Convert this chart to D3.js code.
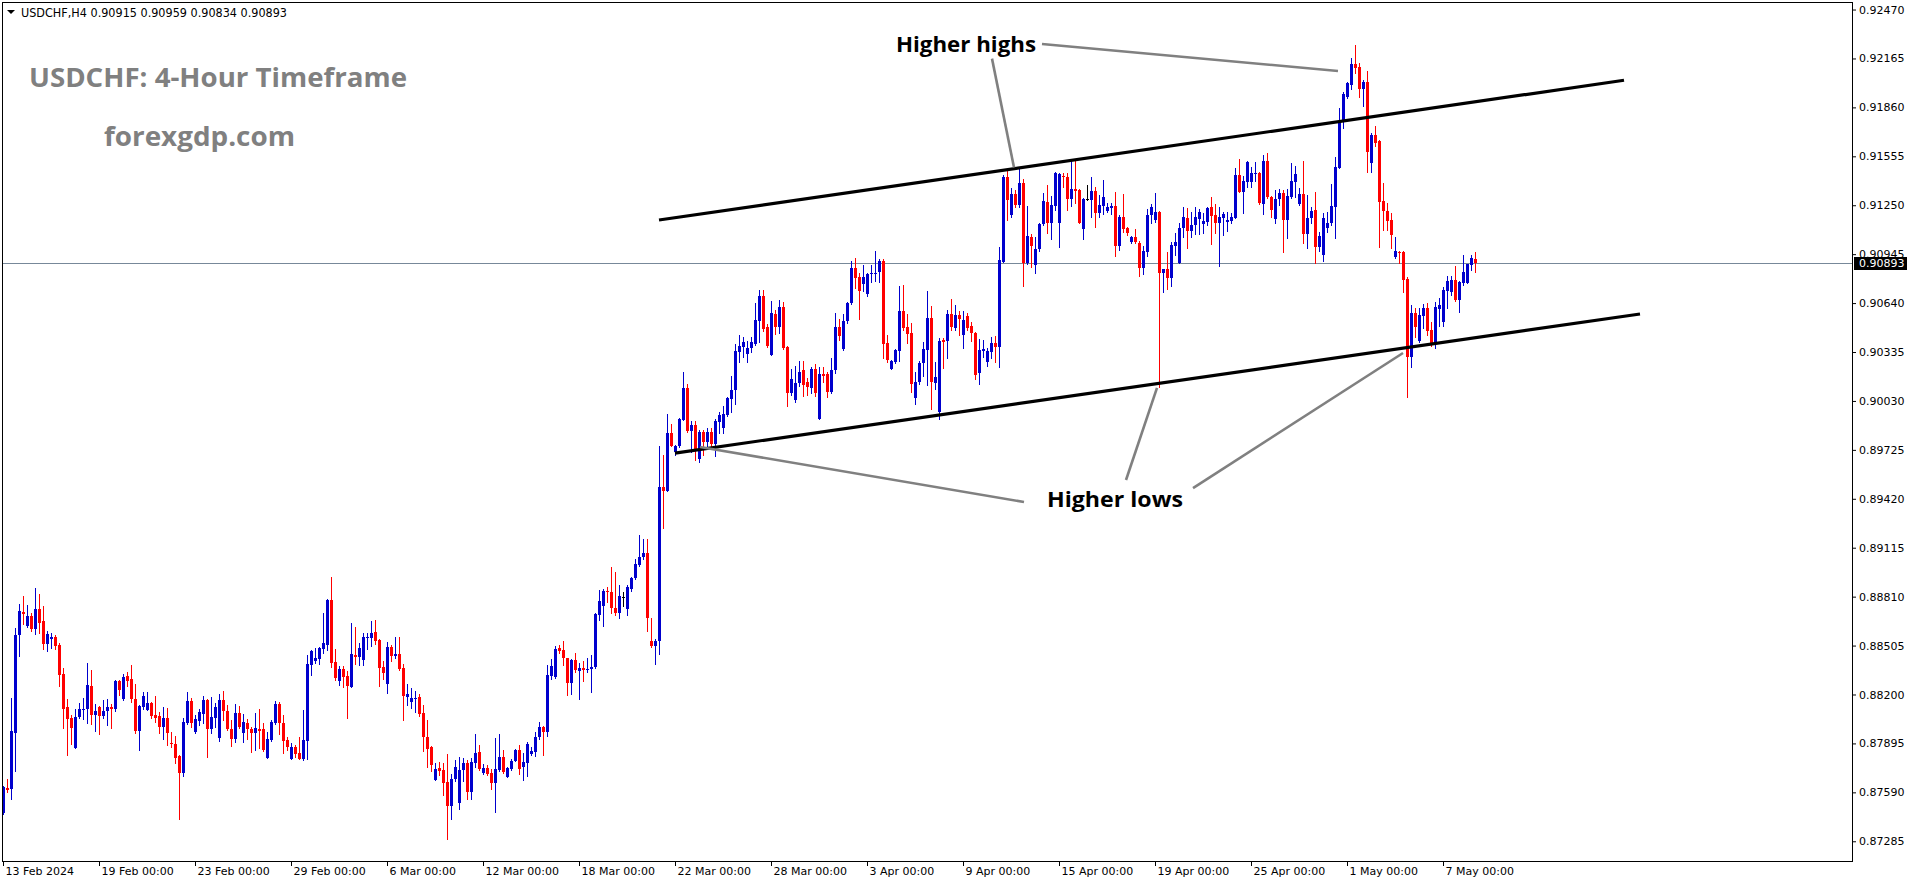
<!DOCTYPE html>
<html><head><meta charset="utf-8">
<script src="https://cdn.jsdelivr.net/npm/d3@7"></script>
<style>html,body{margin:0;padding:0;background:#fff;overflow:hidden}</style>
</head><body><svg id="c" width="1916" height="884"></svg>
<script>
// ---- DATA (USDCHF H4, bar index 0 = 13 Feb 2024 00:00) ----
const open=[0.87463,0.87615,0.87609,0.87962,0.88571,0.88714,0.88627,0.88689,0.88610,0.88733,
0.88658,0.88517,0.88548,0.88558,0.88508,0.88328,0.88122,0.88055,0.87868,0.88060,
0.88105,0.88107,0.88253,0.88074,0.88122,0.88068,0.88097,0.88120,0.88112,0.88284,
0.88174,0.88315,0.88297,0.88172,0.87974,0.88124,0.88105,0.88149,0.88074,0.88066,
0.87999,0.88055,0.87900,0.87893,0.87819,0.87713,0.88022,0.88159,0.87968,0.88037,
0.88080,0.88168,0.87987,0.88055,0.87931,0.88166,0.88099,0.87985,0.87925,0.88085,
0.87962,0.88022,0.87985,0.87962,0.87983,0.87983,0.87806,0.87916,0.88024,0.88143,
0.88022,0.87916,0.87800,0.87873,0.87835,0.87796,0.87910,0.88386,0.88411,0.88423,
0.88486,0.88508,0.88789,0.88402,0.88286,0.88359,0.88315,0.88249,0.88444,0.88436,
0.88415,0.88554,0.88554,0.88589,0.88540,0.88371,0.88267,0.88498,0.88442,0.88452,
0.88365,0.88186,0.88151,0.88174,0.88186,0.88085,0.87937,0.87873,0.87667,0.87742,
0.87729,0.87654,0.87507,0.87673,0.87521,0.87729,0.87773,0.87594,0.87775,0.87842,
0.87711,0.87742,0.87711,0.87650,0.87729,0.87810,0.87688,0.87737,0.87785,0.87854,
0.87745,0.87775,0.87831,0.87844,0.87932,0.87997,0.87964,0.88317,0.88306,0.88488,
0.88477,0.88426,0.88269,0.88416,0.88345,0.88363,0.88352,0.88359,0.88370,0.88698,
0.88749,0.88848,0.88836,0.88740,0.88705,0.88808,0.88732,0.88859,0.88928,0.89009,
0.89055,0.89083,0.88532,0.88502,0.88536,0.89493,0.89470,0.89830,0.89712,0.89752,
0.89913,0.90111,0.89844,0.89881,0.89666,0.89835,0.89775,0.89837,0.89759,0.89901,
0.89862,0.89943,0.90042,0.90098,0.90335,0.90367,0.90323,0.90358,0.90388,0.90531,
0.90686,0.90492,0.90319,0.90573,0.90492,0.90616,0.90367,0.90081,0.90033,0.90139,
0.90224,0.90146,0.90111,0.90227,0.89920,0.90197,0.90197,0.90086,0.90224,0.90494,
0.90351,0.90526,0.90640,0.90858,0.90803,0.90762,0.90699,0.90822,0.90822,0.90833,
0.90905,0.90393,0.90231,0.90273,0.90342,0.90589,0.90492,0.90455,0.90051,0.90146,
0.90266,0.90347,0.90547,0.90144,0.89959,0.90411,0.90404,0.90573,0.90485,0.90566,
0.90441,0.90560,0.90497,0.90456,0.90202,0.90342,0.90275,0.90338,0.90389,0.90369,
0.90898,0.91428,0.91189,0.91320,0.91252,0.91391,0.90892,0.91050,0.90878,0.90975,
0.91133,0.91272,0.91142,0.91245,0.91137,0.91433,0.91428,0.91289,0.91352,0.91345,
0.91104,0.91289,0.91283,0.91339,0.91200,0.91248,0.91216,0.91235,0.91246,0.90996,
0.91177,0.91106,0.91023,0.91050,0.91017,0.90861,0.90961,0.91189,0.91158,0.91210,
0.90830,0.90853,0.90799,0.90996,0.90892,0.91106,0.91169,0.91092,0.91127,0.91165,
0.91131,0.91148,0.91239,0.91189,0.91142,0.91173,0.91144,0.91152,0.91173,0.91439,
0.91334,0.91397,0.91397,0.91449,0.91453,0.91260,0.91526,0.91299,0.91166,0.91287,
0.91324,0.91158,0.91303,0.91397,0.91257,0.91320,0.91070,0.91168,0.91220,0.90987,
0.90940,0.91110,0.91137,0.91237,0.91484,0.91767,0.91922,0.91999,0.92130,0.92111,
0.91972,0.92020,0.91515,0.91688,0.91650,0.91276,0.91216,0.91158,0.90929,0.90960,
0.90960,0.90790,0.90306,0.90576,0.90403,0.90561,0.90611,0.90472,0.90383,0.90603,
0.90524,0.90717,0.90711,0.90784,0.90659,0.90763,0.90767,0.90877,0.90915];
const high=[0.87630,0.87671,0.88180,0.88612,0.88764,0.88814,0.88758,0.88706,0.88862,0.88826,
0.88752,0.88598,0.88585,0.88571,0.88519,0.88365,0.88172,0.88072,0.88107,0.88145,
0.88176,0.88396,0.88353,0.88139,0.88128,0.88166,0.88172,0.88141,0.88288,0.88288,
0.88328,0.88340,0.88384,0.88265,0.88134,0.88215,0.88215,0.88153,0.88190,0.88093,
0.88124,0.88118,0.87966,0.87943,0.87822,0.88055,0.88215,0.88180,0.88070,0.88112,
0.88193,0.88174,0.88182,0.88149,0.88201,0.88222,0.88137,0.88041,0.88139,0.88130,
0.88078,0.88045,0.87999,0.88085,0.88109,0.88024,0.87968,0.88043,0.88159,0.88153,
0.88072,0.87937,0.87895,0.87885,0.87937,0.88103,0.88446,0.88475,0.88490,0.88498,
0.88710,0.88793,0.88934,0.88486,0.88378,0.88380,0.88349,0.88648,0.88623,0.88523,
0.88585,0.88581,0.88660,0.88664,0.88548,0.88411,0.88529,0.88506,0.88560,0.88560,
0.88388,0.88267,0.88240,0.88224,0.88203,0.88134,0.88043,0.87877,0.87775,0.87779,
0.87775,0.87831,0.87704,0.87792,0.87808,0.87804,0.87792,0.87804,0.87954,0.87885,
0.87767,0.87760,0.87735,0.87929,0.87954,0.87854,0.87746,0.87800,0.87860,0.87885,
0.87833,0.87902,0.87872,0.87969,0.88029,0.88006,0.88386,0.88421,0.88502,0.88509,
0.88536,0.88430,0.88421,0.88456,0.88398,0.88409,0.88426,0.88444,0.88709,0.88852,
0.88859,0.88871,0.88993,0.88961,0.88882,0.88836,0.88882,0.88933,0.89044,0.89194,
0.89171,0.89171,0.88675,0.88548,0.89747,0.89696,0.89950,0.89888,0.89756,0.89922,
0.90210,0.90137,0.89908,0.89904,0.89851,0.89851,0.89862,0.89862,0.89915,0.89959,
0.89996,0.90054,0.90185,0.90388,0.90441,0.90427,0.90404,0.90427,0.90642,0.90720,
0.90722,0.90508,0.90651,0.90600,0.90658,0.90646,0.90370,0.90229,0.90247,0.90280,
0.90282,0.90174,0.90243,0.90261,0.90243,0.90243,0.90211,0.90300,0.90580,0.90540,
0.90570,0.90646,0.90902,0.90918,0.90826,0.90875,0.90826,0.90875,0.90965,0.90912,
0.90912,0.90439,0.90284,0.90353,0.90746,0.90750,0.90570,0.90513,0.90213,0.90277,
0.90397,0.90716,0.90623,0.90270,0.90420,0.90420,0.90600,0.90665,0.90628,0.90593,
0.90589,0.90576,0.90524,0.90462,0.90416,0.90410,0.90360,0.90431,0.90437,0.90992,
0.91439,0.91465,0.91356,0.91345,0.91474,0.91412,0.91245,0.91071,0.91055,0.91137,
0.91324,0.91376,0.91306,0.91460,0.91453,0.91453,0.91453,0.91528,0.91528,0.91349,
0.91293,0.91376,0.91428,0.91366,0.91314,0.91408,0.91262,0.91262,0.91335,0.91189,
0.91320,0.91113,0.91061,0.91102,0.91029,0.90996,0.91229,0.91258,0.91324,0.91214,
0.90855,0.90961,0.91023,0.91075,0.91137,0.91241,0.91235,0.91210,0.91241,0.91225,
0.91204,0.91241,0.91304,0.91256,0.91237,0.91210,0.91210,0.91200,0.91482,0.91536,
0.91430,0.91526,0.91490,0.91517,0.91459,0.91563,0.91574,0.91307,0.91345,0.91351,
0.91345,0.91349,0.91511,0.91494,0.91355,0.91526,0.91314,0.91241,0.91334,0.91085,
0.91199,0.91205,0.91382,0.91553,0.91858,0.91958,0.92020,0.92170,0.92249,0.92134,
0.92030,0.92087,0.91698,0.91746,0.91654,0.91386,0.91262,0.91203,0.91054,0.90964,
0.90964,0.90800,0.90628,0.90611,0.90611,0.90632,0.90642,0.90520,0.90644,0.90669,
0.90742,0.90811,0.90809,0.90871,0.90775,0.90940,0.90885,0.90940,0.90959];
const low=[0.87455,0.87594,0.87548,0.87725,0.88442,0.88639,0.88623,0.88598,0.88575,0.88581,
0.88486,0.88473,0.88488,0.88486,0.88255,0.87993,0.87825,0.87893,0.87865,0.88053,
0.88049,0.88022,0.88016,0.87974,0.87956,0.88051,0.88012,0.87993,0.88099,0.88199,
0.88168,0.88255,0.88153,0.87958,0.87856,0.88112,0.88103,0.88051,0.88031,0.87962,
0.87925,0.87883,0.87873,0.87771,0.87422,0.87694,0.88016,0.87999,0.87962,0.88010,
0.88024,0.87812,0.87962,0.87999,0.87912,0.88041,0.87979,0.87881,0.87906,0.87991,
0.87902,0.87920,0.87843,0.87852,0.87864,0.87850,0.87803,0.87910,0.88016,0.87954,
0.87837,0.87854,0.87798,0.87808,0.87796,0.87794,0.87796,0.88323,0.88394,0.88390,
0.88456,0.88477,0.88369,0.88290,0.88259,0.88249,0.88055,0.88245,0.88390,0.88386,
0.88384,0.88486,0.88502,0.88513,0.88255,0.88299,0.88211,0.88411,0.88425,0.88351,
0.88043,0.88134,0.88118,0.88093,0.88068,0.87848,0.87750,0.87725,0.87665,0.87700,
0.87575,0.87297,0.87426,0.87663,0.87486,0.87663,0.87550,0.87550,0.87750,0.87729,
0.87704,0.87700,0.87613,0.87469,0.87721,0.87713,0.87684,0.87729,0.87783,0.87706,
0.87665,0.87690,0.87822,0.87817,0.87925,0.87822,0.87941,0.88294,0.88302,0.88456,
0.88386,0.88195,0.88200,0.88340,0.88174,0.88283,0.88340,0.88218,0.88363,0.88663,
0.88624,0.88776,0.88705,0.88698,0.88675,0.88749,0.88694,0.88848,0.88917,0.89002,
0.89044,0.88594,0.88498,0.88393,0.88451,0.89240,0.89466,0.89747,0.89696,0.89740,
0.89911,0.89837,0.89712,0.89662,0.89648,0.89696,0.89735,0.89752,0.89689,0.89828,
0.89832,0.89939,0.89959,0.90012,0.90275,0.90307,0.90273,0.90335,0.90381,0.90395,
0.90469,0.90367,0.90315,0.90446,0.90455,0.90353,0.89998,0.90070,0.90024,0.90121,
0.90063,0.90070,0.90081,0.90063,0.89916,0.90146,0.90054,0.90077,0.90206,0.90411,
0.90347,0.90513,0.90635,0.90734,0.90538,0.90713,0.90686,0.90773,0.90778,0.90773,
0.90300,0.90270,0.90229,0.90266,0.90277,0.90474,0.90393,0.90086,0.90012,0.90134,
0.90185,0.90128,0.89982,0.90104,0.89920,0.90238,0.90300,0.90474,0.90474,0.90439,
0.90358,0.90472,0.90406,0.90167,0.90134,0.90306,0.90250,0.90296,0.90275,0.90244,
0.90894,0.91158,0.91179,0.91241,0.91237,0.90749,0.90884,0.90867,0.90830,0.90965,
0.91127,0.91075,0.91038,0.91221,0.90992,0.91366,0.91221,0.91248,0.91262,0.91137,
0.91042,0.91283,0.91179,0.91117,0.91175,0.91194,0.91210,0.91196,0.90936,0.90971,
0.91086,0.91065,0.91013,0.91017,0.90811,0.90822,0.90936,0.91142,0.91148,0.90119,
0.90709,0.90728,0.90749,0.90940,0.90890,0.91055,0.90986,0.91055,0.91069,0.91071,
0.91079,0.91127,0.91007,0.91075,0.90874,0.91065,0.91090,0.91137,0.91169,0.91331,
0.91203,0.91366,0.91361,0.91401,0.91257,0.91197,0.91293,0.91174,0.91137,0.91251,
0.90960,0.91043,0.91293,0.91303,0.91251,0.91016,0.90981,0.91137,0.90888,0.90964,
0.90902,0.91085,0.91127,0.91048,0.91480,0.91733,0.91916,0.91974,0.92072,0.91927,
0.91870,0.91459,0.91455,0.91621,0.90987,0.91095,0.91095,0.90981,0.90923,0.90888,
0.90707,0.90056,0.90243,0.90430,0.90395,0.90482,0.90441,0.90372,0.90362,0.90499,
0.90499,0.90607,0.90690,0.90653,0.90582,0.90753,0.90763,0.90846,0.90834];
const close=[0.87625,0.87605,0.87972,0.88571,0.88720,0.88704,0.88689,0.88610,0.88733,0.88648,
0.88517,0.88577,0.88558,0.88504,0.88323,0.88112,0.88049,0.87993,0.88060,0.88107,
0.88112,0.88259,0.88074,0.88097,0.88068,0.88097,0.88122,0.88112,0.88284,0.88230,
0.88311,0.88286,0.88174,0.87974,0.88130,0.88190,0.88147,0.88068,0.88055,0.87999,
0.88055,0.87958,0.87889,0.87806,0.87713,0.88028,0.88159,0.88020,0.88045,0.88093,
0.88166,0.87983,0.88062,0.88124,0.88166,0.88097,0.87983,0.87925,0.88085,0.87997,
0.88028,0.87983,0.87962,0.87989,0.87974,0.87854,0.87920,0.88028,0.88143,0.88022,
0.87912,0.87875,0.87873,0.87829,0.87800,0.87916,0.88390,0.88471,0.88427,0.88490,
0.88523,0.88789,0.88398,0.88303,0.88359,0.88311,0.88253,0.88452,0.88436,0.88490,
0.88558,0.88558,0.88583,0.88535,0.88367,0.88334,0.88498,0.88442,0.88452,0.88359,
0.88190,0.88203,0.88180,0.88180,0.88078,0.87937,0.87862,0.87760,0.87733,0.87725,
0.87646,0.87507,0.87673,0.87748,0.87729,0.87773,0.87594,0.87779,0.87835,0.87735,
0.87742,0.87706,0.87650,0.87735,0.87810,0.87717,0.87742,0.87785,0.87854,0.87737,
0.87780,0.87891,0.87849,0.87932,0.87997,0.87964,0.88322,0.88375,0.88486,0.88474,
0.88426,0.88269,0.88416,0.88352,0.88363,0.88354,0.88361,0.88370,0.88702,0.88783,
0.88845,0.88836,0.88740,0.88705,0.88813,0.88808,0.88871,0.88928,0.89014,0.89055,
0.89083,0.88675,0.88502,0.88536,0.89493,0.89470,0.89830,0.89752,0.89752,0.89918,
0.90111,0.89844,0.89881,0.89724,0.89839,0.89775,0.89839,0.89759,0.89908,0.89943,
0.89950,0.90047,0.90098,0.90342,0.90372,0.90400,0.90363,0.90395,0.90536,0.90686,
0.90478,0.90372,0.90580,0.90492,0.90616,0.90358,0.90081,0.90167,0.90144,0.90213,
0.90128,0.90116,0.90227,0.90077,0.90197,0.90188,0.90086,0.90224,0.90494,0.90432,
0.90531,0.90642,0.90858,0.90796,0.90718,0.90803,0.90819,0.90829,0.90829,0.90900,
0.90388,0.90284,0.90277,0.90347,0.90589,0.90485,0.90450,0.90133,0.90146,0.90266,
0.90351,0.90547,0.90146,0.90181,0.90404,0.90400,0.90573,0.90492,0.90566,0.90538,
0.90535,0.90483,0.90452,0.90192,0.90348,0.90354,0.90342,0.90389,0.90369,0.90909,
0.91428,0.91283,0.91320,0.91252,0.91391,0.90888,0.91059,0.90996,0.90977,0.91133,
0.91279,0.91142,0.91252,0.91453,0.91445,0.91424,0.91289,0.91352,0.91339,0.91142,
0.91289,0.91289,0.91341,0.91204,0.91252,0.91304,0.91241,0.91248,0.90998,0.91179,
0.91100,0.91075,0.91050,0.91023,0.90861,0.90965,0.91189,0.91237,0.91210,0.90830,
0.90853,0.90799,0.91000,0.91021,0.91108,0.91175,0.91092,0.91127,0.91175,0.91210,
0.91152,0.91235,0.91185,0.91142,0.91179,0.91196,0.91158,0.91175,0.91439,0.91335,
0.91401,0.91517,0.91453,0.91453,0.91262,0.91526,0.91299,0.91220,0.91289,0.91324,
0.91158,0.91307,0.91401,0.91445,0.91320,0.91070,0.91172,0.91214,0.90987,0.91058,
0.91172,0.91137,0.91245,0.91490,0.91767,0.91941,0.92010,0.92130,0.92107,0.91972,
0.92020,0.91584,0.91688,0.91640,0.91272,0.91216,0.91154,0.91064,0.90964,0.90954,
0.90784,0.90306,0.90576,0.90493,0.90565,0.90611,0.90468,0.90383,0.90613,0.90628,
0.90721,0.90780,0.90784,0.90659,0.90773,0.90831,0.90881,0.90919,0.90893];

const priceTicks=[0.92470,0.92165,0.91860,0.91555,0.91250,0.90945,0.90640,0.90335,0.90030,
0.89725,0.89420,0.89115,0.88810,0.88505,0.88200,0.87895,0.87590,0.87285];
const timeTickBars=[0,24,48,72,96,120,144,168,192,216,240,264,288,312,336,360];
const timeTickLabels=["13 Feb 2024","19 Feb 00:00","23 Feb 00:00","29 Feb 00:00","6 Mar 00:00",
"12 Mar 00:00","18 Mar 00:00","22 Mar 00:00","28 Mar 00:00","3 Apr 00:00","9 Apr 00:00",
"15 Apr 00:00","19 Apr 00:00","25 Apr 00:00","1 May 00:00","7 May 00:00"];
const symbolHeader="USDCHF,H4  0.90915 0.90959 0.90834 0.90893";
const lastPrice=0.90893;
const upperChannel=[[164,0.91158],[405.25,0.92029]];
const lowerChannel=[[168,0.89705],[409.25,0.90572]];
const highPointers=[[[247.25,0.92164],[252.75,0.91486]],[[259.75,0.92255],[333.75,0.92087]]];
const lowPointers=[[[174.25,0.89743],[255.25,0.89400]],[[280.75,0.89537],[288.5,0.90111]],[[297.5,0.89487],[350,0.90329]]];
const notes=[{text:"Higher highs",bar:240.75,price:0.92255,len:140},{text:"Higher lows",bar:278,price:0.89419,len:136}];

// ---- DRAW ----
const svg=d3.select("#c");
const L=2,R=1852,T=2,B=861;
const x=d3.scaleLinear().domain([-0.25,462.25]).range([L,R]);
const y=d3.scaleLinear().domain([0.87162,0.92517]).range([B,T]);
const BLUE="#0000cd",RED="#ff0000";

svg.append("rect").attr("width",1916).attr("height",884).attr("fill","#fff");
svg.append("defs").append("clipPath").attr("id","pc").append("rect")
  .attr("x",L).attr("y",T).attr("width",R-L).attr("height",B-T);

const plot=svg.append("g").attr("clip-path","url(#pc)");

// last price line
const yl=Math.round(y(lastPrice))+0.5;
plot.append("line").attr("x1",L).attr("x2",R).attr("y1",yl).attr("y2",yl)
  .attr("stroke","#778899").attr("stroke-width",1).attr("shape-rendering","crispEdges");

// candles
const idx=d3.range(open.length);
const col=i=>close[i]>open[i]?BLUE:(close[i]<open[i]?RED:"#000");
const cg=plot.append("g").attr("shape-rendering","crispEdges");
cg.selectAll("line.w").data(idx).join("line").attr("class","w")
  .attr("x1",i=>Math.round(x(i))+0.5).attr("x2",i=>Math.round(x(i))+0.5)
  .attr("y1",i=>Math.round(y(high[i]))).attr("y2",i=>Math.round(y(low[i]))+1)
  .attr("stroke",col).attr("stroke-width",1);
cg.selectAll("rect.b").data(idx).join("rect").attr("class","b")
  .attr("x",i=>Math.round(x(i))-1).attr("width",3)
  .attr("y",i=>Math.round(y(Math.max(open[i],close[i]))))
  .attr("height",i=>Math.max(1,Math.round(y(Math.min(open[i],close[i])))-Math.round(y(Math.max(open[i],close[i])))))
  .attr("fill",col);

// channel lines
const lineGen=d3.line().x(d=>x(d[0])).y(d=>y(d[1]));
[upperChannel,lowerChannel].forEach(p=>{
  plot.append("path").attr("d",lineGen(p)).attr("stroke","#000").attr("stroke-width",3.2).attr("fill","none");
});
// pointer lines
[...highPointers,...lowPointers].forEach(p=>{
  plot.append("path").attr("d",lineGen(p)).attr("stroke","#808080").attr("stroke-width",2.6).attr("fill","none");
});
// notes
notes.forEach(n=>{
  plot.append("text").attr("x",x(n.bar)).attr("y",y(n.price)).attr("text-anchor","middle")
    .attr("dominant-baseline","central")
    .attr("font-family","'Open Sans', sans-serif").attr("font-weight",700).attr("font-size",21)
    .attr("textLength",n.len).attr("lengthAdjust","spacingAndGlyphs").attr("fill","#000").text(n.text);
});

// titles
svg.append("text").attr("x",29).attr("y",87).attr("font-family","'Open Sans', sans-serif")
  .attr("font-weight",700).attr("font-size",27).attr("fill","#808080")
  .attr("textLength",378).attr("lengthAdjust","spacingAndGlyphs").text("USDCHF: 4-Hour Timeframe");
svg.append("text").attr("x",104).attr("y",146).attr("font-family","'Open Sans', sans-serif")
  .attr("font-weight",700).attr("font-size",27).attr("fill","#808080")
  .attr("textLength",191).attr("lengthAdjust","spacingAndGlyphs").text("forexgdp.com");

// header
svg.append("path").attr("d","M7,10 L15,10 L11,14 Z").attr("fill","#000");
svg.append("text").attr("x",21).attr("y",16.5).attr("font-family","'DejaVu Sans', sans-serif")
  .attr("font-size",11.5).attr("fill","#000").attr("textLength",266).attr("lengthAdjust","spacingAndGlyphs")
  .text(symbolHeader);

// right axis
const ay=svg.append("g").attr("transform",`translate(${R},0)`)
  .call(d3.axisRight(y).tickValues(priceTicks).tickFormat(d3.format(".5f")).tickSizeInner(4).tickSizeOuter(0).tickPadding(3));
ay.select(".domain").remove();
ay.selectAll("text").attr("font-family","'DejaVu Sans', sans-serif").attr("font-size",11).attr("fill","#000");
ay.selectAll("line").attr("stroke","#000");

// bottom axis
const ax=svg.append("g").attr("transform",`translate(0,${B})`)
  .call(d3.axisBottom(x).tickValues(timeTickBars).tickFormat((d,i)=>timeTickLabels[i]).tickSizeInner(5).tickSizeOuter(0));
ax.select(".domain").remove();
ax.selectAll("text").attr("text-anchor","start").attr("x",2).attr("y",6).attr("dy","0.71em")
  .attr("font-family","'DejaVu Sans', sans-serif").attr("font-size",11).attr("fill","#000");
ax.selectAll("line").attr("stroke","#000");

// border
svg.append("rect").attr("x",L+0.5).attr("y",T+0.5).attr("width",R-L).attr("height",B-T)
  .attr("fill","none").attr("stroke","#000").attr("stroke-width",1).attr("shape-rendering","crispEdges");

// last price box
svg.append("rect").attr("x",R+2).attr("y",yl-6.5).attr("width",53).attr("height",13).attr("fill","#000");
svg.append("text").attr("x",R+7).attr("y",yl).attr("dy","0.36em").attr("font-family","'DejaVu Sans', sans-serif")
  .attr("font-size",11).attr("fill","#fff").text(d3.format(".5f")(lastPrice));
</script></body></html>
